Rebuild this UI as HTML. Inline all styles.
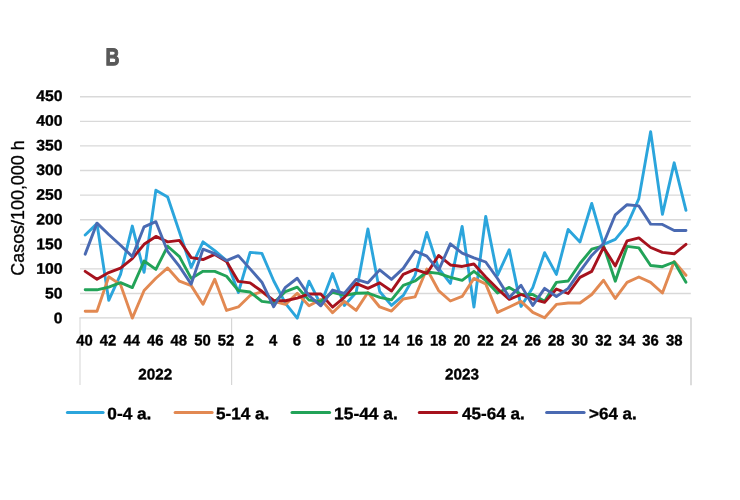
<!DOCTYPE html>
<html><head><meta charset="utf-8"><title>B</title>
<style>html,body{margin:0;padding:0;background:#fff}svg{display:block}text{font-family:"Liberation Sans",sans-serif}</style></head><body>
<svg width="740" height="500" viewBox="0 0 740 500">
<rect width="740" height="500" fill="#fff"/>
<line x1="80" x2="690.8" y1="293.50" y2="293.50" stroke="#d9d9d9" stroke-width="1.35"/>
<line x1="80" x2="690.8" y1="268.90" y2="268.90" stroke="#d9d9d9" stroke-width="1.35"/>
<line x1="80" x2="690.8" y1="244.30" y2="244.30" stroke="#d9d9d9" stroke-width="1.35"/>
<line x1="80" x2="690.8" y1="219.70" y2="219.70" stroke="#d9d9d9" stroke-width="1.35"/>
<line x1="80" x2="690.8" y1="195.10" y2="195.10" stroke="#d9d9d9" stroke-width="1.35"/>
<line x1="80" x2="690.8" y1="170.50" y2="170.50" stroke="#d9d9d9" stroke-width="1.35"/>
<line x1="80" x2="690.8" y1="145.90" y2="145.90" stroke="#d9d9d9" stroke-width="1.35"/>
<line x1="80" x2="690.8" y1="121.30" y2="121.30" stroke="#d9d9d9" stroke-width="1.35"/>
<line x1="80" x2="690.8" y1="96.70" y2="96.70" stroke="#d9d9d9" stroke-width="1.35"/>
<line x1="79.4" x2="691.6" y1="317.90" y2="317.90" stroke="#d4d4d4" stroke-width="1.3"/>
<line x1="80" x2="80" y1="317.90" y2="385" stroke="#dcdcdc" stroke-width="1.2"/>
<line x1="231.6" x2="231.6" y1="317.90" y2="385" stroke="#d6d6d6" stroke-width="1.2"/>
<line x1="691" x2="691" y1="317.90" y2="385.3" stroke="#d0d0d0" stroke-width="1.5"/>
<text transform="translate(62.4,323.20) rotate(0.03) scale(1.03,1)" text-anchor="end" font-size="15.3" font-weight="bold" fill="#000" stroke="#000" stroke-width="0.35">0</text>
<text transform="translate(62.4,298.52) rotate(0.03) scale(1.03,1)" text-anchor="end" font-size="15.3" font-weight="bold" fill="#000" stroke="#000" stroke-width="0.35">50</text>
<text transform="translate(62.4,273.84) rotate(0.03) scale(1.03,1)" text-anchor="end" font-size="15.3" font-weight="bold" fill="#000" stroke="#000" stroke-width="0.35">100</text>
<text transform="translate(62.4,249.17) rotate(0.03) scale(1.03,1)" text-anchor="end" font-size="15.3" font-weight="bold" fill="#000" stroke="#000" stroke-width="0.35">150</text>
<text transform="translate(62.4,224.49) rotate(0.03) scale(1.03,1)" text-anchor="end" font-size="15.3" font-weight="bold" fill="#000" stroke="#000" stroke-width="0.35">200</text>
<text transform="translate(62.4,199.81) rotate(0.03) scale(1.03,1)" text-anchor="end" font-size="15.3" font-weight="bold" fill="#000" stroke="#000" stroke-width="0.35">250</text>
<text transform="translate(62.4,175.13) rotate(0.03) scale(1.03,1)" text-anchor="end" font-size="15.3" font-weight="bold" fill="#000" stroke="#000" stroke-width="0.35">300</text>
<text transform="translate(62.4,150.46) rotate(0.03) scale(1.03,1)" text-anchor="end" font-size="15.3" font-weight="bold" fill="#000" stroke="#000" stroke-width="0.35">350</text>
<text transform="translate(62.4,125.78) rotate(0.03) scale(1.03,1)" text-anchor="end" font-size="15.3" font-weight="bold" fill="#000" stroke="#000" stroke-width="0.35">400</text>
<text transform="translate(62.4,101.10) rotate(0.03) scale(1.03,1)" text-anchor="end" font-size="15.3" font-weight="bold" fill="#000" stroke="#000" stroke-width="0.35">450</text>
<text transform="translate(24.2,208) rotate(-90)" text-anchor="middle" font-size="17.9" fill="#000" stroke="#000" stroke-width="0.3">Casos/100,000 h</text>
<text transform="translate(112.5,65.25) rotate(0.2) scale(0.79,1)" text-anchor="middle" font-size="24.4" font-weight="bold" fill="#595959" stroke="#595959" stroke-width="1.1">B</text>
<text transform="translate(84.49,345.45) rotate(0.03) scale(0.97,1)" text-anchor="middle" font-size="15.3" font-weight="bold" fill="#000" stroke="#000" stroke-width="0.35">40</text>
<text transform="translate(108.08,345.45) rotate(0.03) scale(0.97,1)" text-anchor="middle" font-size="15.3" font-weight="bold" fill="#000" stroke="#000" stroke-width="0.35">42</text>
<text transform="translate(131.67,345.45) rotate(0.03) scale(0.97,1)" text-anchor="middle" font-size="15.3" font-weight="bold" fill="#000" stroke="#000" stroke-width="0.35">44</text>
<text transform="translate(155.25,345.45) rotate(0.03) scale(0.97,1)" text-anchor="middle" font-size="15.3" font-weight="bold" fill="#000" stroke="#000" stroke-width="0.35">46</text>
<text transform="translate(178.84,345.45) rotate(0.03) scale(0.97,1)" text-anchor="middle" font-size="15.3" font-weight="bold" fill="#000" stroke="#000" stroke-width="0.35">48</text>
<text transform="translate(202.43,345.45) rotate(0.03) scale(0.97,1)" text-anchor="middle" font-size="15.3" font-weight="bold" fill="#000" stroke="#000" stroke-width="0.35">50</text>
<text transform="translate(226.02,345.45) rotate(0.03) scale(0.97,1)" text-anchor="middle" font-size="15.3" font-weight="bold" fill="#000" stroke="#000" stroke-width="0.35">52</text>
<text transform="translate(249.61,345.45) rotate(0.03) scale(0.97,1)" text-anchor="middle" font-size="15.3" font-weight="bold" fill="#000" stroke="#000" stroke-width="0.35">2</text>
<text transform="translate(273.19,345.45) rotate(0.03) scale(0.97,1)" text-anchor="middle" font-size="15.3" font-weight="bold" fill="#000" stroke="#000" stroke-width="0.35">4</text>
<text transform="translate(296.78,345.45) rotate(0.03) scale(0.97,1)" text-anchor="middle" font-size="15.3" font-weight="bold" fill="#000" stroke="#000" stroke-width="0.35">6</text>
<text transform="translate(320.37,345.45) rotate(0.03) scale(0.97,1)" text-anchor="middle" font-size="15.3" font-weight="bold" fill="#000" stroke="#000" stroke-width="0.35">8</text>
<text transform="translate(343.96,345.45) rotate(0.03) scale(0.97,1)" text-anchor="middle" font-size="15.3" font-weight="bold" fill="#000" stroke="#000" stroke-width="0.35">10</text>
<text transform="translate(367.55,345.45) rotate(0.03) scale(0.97,1)" text-anchor="middle" font-size="15.3" font-weight="bold" fill="#000" stroke="#000" stroke-width="0.35">12</text>
<text transform="translate(391.13,345.45) rotate(0.03) scale(0.97,1)" text-anchor="middle" font-size="15.3" font-weight="bold" fill="#000" stroke="#000" stroke-width="0.35">14</text>
<text transform="translate(414.72,345.45) rotate(0.03) scale(0.97,1)" text-anchor="middle" font-size="15.3" font-weight="bold" fill="#000" stroke="#000" stroke-width="0.35">16</text>
<text transform="translate(438.31,345.45) rotate(0.03) scale(0.97,1)" text-anchor="middle" font-size="15.3" font-weight="bold" fill="#000" stroke="#000" stroke-width="0.35">18</text>
<text transform="translate(461.90,345.45) rotate(0.03) scale(0.97,1)" text-anchor="middle" font-size="15.3" font-weight="bold" fill="#000" stroke="#000" stroke-width="0.35">20</text>
<text transform="translate(485.49,345.45) rotate(0.03) scale(0.97,1)" text-anchor="middle" font-size="15.3" font-weight="bold" fill="#000" stroke="#000" stroke-width="0.35">22</text>
<text transform="translate(509.07,345.45) rotate(0.03) scale(0.97,1)" text-anchor="middle" font-size="15.3" font-weight="bold" fill="#000" stroke="#000" stroke-width="0.35">24</text>
<text transform="translate(532.66,345.45) rotate(0.03) scale(0.97,1)" text-anchor="middle" font-size="15.3" font-weight="bold" fill="#000" stroke="#000" stroke-width="0.35">26</text>
<text transform="translate(556.25,345.45) rotate(0.03) scale(0.97,1)" text-anchor="middle" font-size="15.3" font-weight="bold" fill="#000" stroke="#000" stroke-width="0.35">28</text>
<text transform="translate(579.84,345.45) rotate(0.03) scale(0.97,1)" text-anchor="middle" font-size="15.3" font-weight="bold" fill="#000" stroke="#000" stroke-width="0.35">30</text>
<text transform="translate(603.43,345.45) rotate(0.03) scale(0.97,1)" text-anchor="middle" font-size="15.3" font-weight="bold" fill="#000" stroke="#000" stroke-width="0.35">32</text>
<text transform="translate(627.01,345.45) rotate(0.03) scale(0.97,1)" text-anchor="middle" font-size="15.3" font-weight="bold" fill="#000" stroke="#000" stroke-width="0.35">34</text>
<text transform="translate(650.60,345.45) rotate(0.03) scale(0.97,1)" text-anchor="middle" font-size="15.3" font-weight="bold" fill="#000" stroke="#000" stroke-width="0.35">36</text>
<text transform="translate(674.19,345.45) rotate(0.03) scale(0.97,1)" text-anchor="middle" font-size="15.3" font-weight="bold" fill="#000" stroke="#000" stroke-width="0.35">38</text>
<text transform="translate(155.2,379.5) rotate(0.03) scale(0.99,1)" text-anchor="middle" font-size="15.4" font-weight="bold" fill="#000" stroke="#000" stroke-width="0.35">2022</text>
<text transform="translate(462,379.5) rotate(0.03) scale(0.99,1)" text-anchor="middle" font-size="15.4" font-weight="bold" fill="#000" stroke="#000" stroke-width="0.35">2023</text>
<polyline points="85.19,234.95 96.97,223.64 108.75,300.39 120.53,274.31 132.31,226.10 144.09,272.34 155.87,190.18 167.65,197.07 179.43,232.00 191.21,267.42 202.99,241.84 214.77,250.70 226.55,260.54 238.33,292.52 250.11,252.42 261.89,253.40 273.67,280.71 285.45,303.34 297.23,318.10 309.01,281.20 320.79,304.57 332.57,273.57 344.35,305.41 356.13,292.52 367.91,229.05 379.69,291.53 391.47,305.41 403.25,295.47 415.03,275.39 426.81,232.49 438.59,268.41 450.37,283.41 462.15,226.39 473.93,306.98 485.71,216.40 497.49,275.39 509.27,249.71 521.05,306.39 532.83,287.40 544.61,252.66 556.39,274.41 568.17,229.39 579.95,241.99 591.73,203.46 603.51,244.30 615.29,239.38 627.07,225.11 638.85,198.54 650.63,131.63 662.41,214.39 674.19,162.82 685.97,210.35" fill="none" stroke="#2ba5dc" stroke-width="2.9" stroke-linejoin="round" stroke-linecap="round"/>
<polyline points="85.19,311.21 96.97,311.21 108.75,276.77 120.53,284.64 132.31,318.10 144.09,290.55 155.87,278.25 167.65,267.92 179.43,281.20 191.21,285.63 202.99,304.32 214.77,279.23 226.55,310.42 238.33,306.98 250.11,295.47 261.89,291.53 273.67,301.37 285.45,304.32 297.23,293.25 309.01,305.80 320.79,299.40 332.57,312.69 344.35,301.37 356.13,310.42 367.91,292.52 379.69,306.98 391.47,311.02 403.25,299.01 415.03,296.94 426.81,269.00 438.59,290.55 450.37,300.98 462.15,296.45 473.93,278.40 485.71,283.91 497.49,312.39 509.27,306.98 521.05,301.37 532.83,312.39 544.61,317.80 556.39,304.42 568.17,303.00 579.95,303.00 591.73,294.48 603.51,280.22 615.29,298.42 627.07,282.38 638.85,277.02 650.63,282.38 662.41,293.01 674.19,261.52 685.97,275.30" fill="none" stroke="#e28952" stroke-width="2.9" stroke-linejoin="round" stroke-linecap="round"/>
<polyline points="85.19,289.81 96.97,289.81 108.75,287.10 120.53,282.68 132.31,287.60 144.09,261.03 155.87,269.39 167.65,246.27 179.43,256.60 191.21,278.40 202.99,271.36 214.77,271.36 226.55,276.28 238.33,290.55 250.11,292.02 261.89,301.37 273.67,302.85 285.45,291.53 297.23,287.10 309.01,300.14 320.79,301.37 332.57,292.27 344.35,295.47 356.13,293.25 367.91,293.01 379.69,297.44 391.47,299.90 403.25,285.38 415.03,281.00 426.81,272.00 438.59,273.43 450.37,277.41 462.15,280.41 473.93,271.36 485.71,280.41 497.49,293.01 509.27,287.40 521.05,294.48 532.83,294.48 544.61,301.37 556.39,282.38 568.17,281.00 579.95,263.49 591.73,249.22 603.51,245.78 615.29,281.20 627.07,246.42 638.85,247.89 650.63,265.46 662.41,266.69 674.19,262.01 685.97,282.18" fill="none" stroke="#22a358" stroke-width="2.9" stroke-linejoin="round" stroke-linecap="round"/>
<polyline points="85.19,271.36 96.97,279.23 108.75,272.59 120.53,268.16 132.31,258.57 144.09,244.30 155.87,236.43 167.65,241.84 179.43,240.36 191.21,257.58 202.99,259.55 214.77,254.39 226.55,261.52 238.33,281.40 250.11,282.92 261.89,291.29 273.67,300.39 285.45,300.73 297.23,298.17 309.01,293.99 320.79,293.99 332.57,307.13 344.35,297.44 356.13,283.41 367.91,288.38 379.69,282.82 391.47,291.04 403.25,274.41 415.03,269.39 426.81,273.43 438.59,255.42 450.37,264.96 462.15,266.44 473.93,263.98 485.71,276.92 497.49,288.83 509.27,299.40 521.05,294.48 532.83,299.01 544.61,302.36 556.39,289.07 568.17,293.50 579.95,277.41 591.73,271.36 603.51,247.25 615.29,265.95 627.07,240.86 638.85,237.90 650.63,247.50 662.41,252.32 674.19,253.80 685.97,244.40" fill="none" stroke="#a6121d" stroke-width="2.9" stroke-linejoin="round" stroke-linecap="round"/>
<polyline points="85.19,254.14 96.97,223.14 108.75,234.46 120.53,245.28 132.31,256.60 144.09,226.83 155.87,221.67 167.65,251.43 179.43,266.44 191.21,284.15 202.99,249.22 214.77,253.65 226.55,260.54 238.33,255.62 250.11,268.90 261.89,282.18 273.67,306.78 285.45,287.35 297.23,278.25 309.01,295.71 320.79,305.80 332.57,290.06 344.35,293.50 356.13,279.38 367.91,282.82 379.69,269.88 391.47,279.38 403.25,268.41 415.03,250.99 426.81,256.11 438.59,270.38 450.37,243.81 462.15,253.16 473.93,257.78 485.71,262.01 497.49,278.49 509.27,297.44 521.05,285.38 532.83,305.41 544.61,288.38 556.39,296.45 568.17,288.38 579.95,271.36 591.73,255.42 603.51,243.56 615.29,214.78 627.07,204.69 638.85,205.92 650.63,224.13 662.41,224.42 674.19,230.52 685.97,230.52" fill="none" stroke="#4a6ab2" stroke-width="2.9" stroke-linejoin="round" stroke-linecap="round"/>
<line x1="67.4" x2="103.1" y1="412.4" y2="412.4" stroke="#2ba5dc" stroke-width="3" stroke-linecap="round"/>
<text transform="translate(107.3,419.25) rotate(0.03)" font-size="16.65" font-weight="bold" fill="#000" stroke="#000" stroke-width="0.35" textLength="44.1" lengthAdjust="spacingAndGlyphs">0-4 a.</text>
<line x1="175.1" x2="212.1" y1="412.4" y2="412.4" stroke="#e28952" stroke-width="3" stroke-linecap="round"/>
<text transform="translate(215.89999999999998,419.25) rotate(0.03)" font-size="16.65" font-weight="bold" fill="#000" stroke="#000" stroke-width="0.35" textLength="53.5" lengthAdjust="spacingAndGlyphs">5-14 a.</text>
<line x1="292.0" x2="329.6" y1="412.4" y2="412.4" stroke="#22a358" stroke-width="3" stroke-linecap="round"/>
<text transform="translate(334.09999999999997,419.25) rotate(0.03)" font-size="16.65" font-weight="bold" fill="#000" stroke="#000" stroke-width="0.35" textLength="63.7" lengthAdjust="spacingAndGlyphs">15-44 a.</text>
<line x1="419.3" x2="456.6" y1="412.4" y2="412.4" stroke="#a6121d" stroke-width="3" stroke-linecap="round"/>
<text transform="translate(462.09999999999997,419.25) rotate(0.03)" font-size="16.65" font-weight="bold" fill="#000" stroke="#000" stroke-width="0.35" textLength="62.7" lengthAdjust="spacingAndGlyphs">45-64 a.</text>
<line x1="546.6" x2="584.1" y1="412.4" y2="412.4" stroke="#4a6ab2" stroke-width="3" stroke-linecap="round"/>
<text transform="translate(589.1,419.25) rotate(0.03)" font-size="16.65" font-weight="bold" fill="#000" stroke="#000" stroke-width="0.35" textLength="47.6" lengthAdjust="spacingAndGlyphs">&gt;64 a.</text>
</svg></body></html>
